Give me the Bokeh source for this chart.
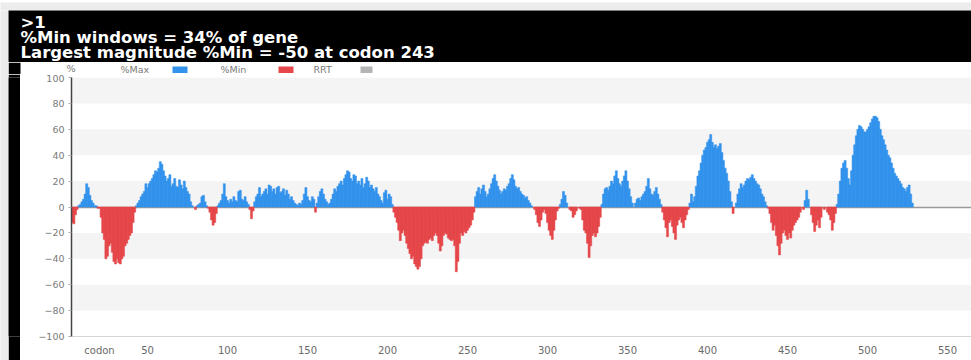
import numpy as np
from bokeh.plotting import figure
from bokeh.layouts import column, row
from bokeh.models import Range1d, FixedTicker, ColumnDataSource
from bokeh.core.properties import value
from bokeh.embed import file_html
from bokeh.resources import INLINE

# %MinMax profile of sequence ">1": one value per codon window,
# positive values are %Max windows, negative values are %Min windows.
sequence_name = ">1"
first_codon = 3
minmax_pct = [
    -12, -13, -6, -2, 1, 2, 4, 6, 10, 18,          # 3-12
    15, 9, 5, 3, 1, 1, -1, -1, -8, -20,            # 13-22
    -25, -40, -38, -30, -28, -35, -42, -44, -40, -43,
    -44, -40, -38, -30, -28, -25, -22, -20, -12, -4,
    1, 3, 5, 8, 10, 12, 18, 15, 18, 20,            # 43-52
    22, 25, 28, 27, 30, 35, 33, 28, 24, 20,
    22, 25, 16, 18, 22, 16, 15, 21, 17, 14,
    20, 15, 12, 10, 4, 1, 0, -2, 1, 2,             # 73-82
    3, 8, 9, 4, 1, -1, -4, -10, -14, -12,
    -5, 1, 3, 5, 10, 18, 8, 5, 3, 6,
    4, 8, 5, 4, 12, 13, 6, 5, 8, 4,                # 103-112
    2, -2, -9, -3, 4, 8, 10, 15, 8, 10,
    12, 14, 10, 17, 16, 12, 14, 10, 15, 16,
    11, 12, 14, 9, 13, 10, 6, 8, 5, 3,             # 133-142
    2, 1, 3, 2, 5, 10, 15, 8, 5, 4,
    8, 6, -4, 3, 8, 12, 14, 10, 6, 4,
    2, 3, 6, 10, 14, 12, 16, 18, 20, 17,           # 163-172
    22, 25, 28, 27, 22, 20, 25, 24, 18, 20,
    17, 22, 15, 18, 23, 20, 15, 17, 14, 12,
    15, 10, 8, 5, 3, 11, 13, 6, 10, 8,             # 193-202
    2, -4, -8, -12, -18, -26, -20, -18, -22, -28,
    -32, -36, -40, -38, -44, -46, -48, -46, -40, -30,
    -28, -27, -28, -25, -24, -26, -22, -20, -22, -28,   # 223-232
    -34, -30, -22, -20, -21, -24, -25, -26, -25, -30,
    -50, -42, -28, -20, -22, -19, -20, -18, -16, -14,
    -10, -4, 8, 12, 15, 10, 14, 17, 12, 8,         # 253-262
    10, 14, 18, 22, 25, 20, 16, 13, 10, 12,
    14, 13, 16, 18, 22, 25, 21, 16, 14, 15,
    12, 10, 9, 7, 8, 5, 3, 1, 0, -2,               # 283-292
    -6, -12, -15, -10, -4, -2, -5, -12, -18, -22,
    -25, -18, -10, -3, -1, 2, 6, 12, 9, 3,
    0, -2, -3, -8, -6, -3, 0, -1, -2, -10,         # 313-322
    -18, -20, -28, -39, -30, -22, -20, -23, -20, -15,
    -8, 2, 10, 14, 15, 13, 16, 20, 18, 24,
    28, 22, 18, 16, 20, 24, 28, 20, 14, 8,         # 343-352
    3, 0, 3, 6, 7, 5, 8, 10, 12, 16,
    22, 14, 10, 9, 12, 15, 10, 6, 2, -4,
    -10, -16, -23, -12, -10, -15, -20, -25, -14, -10,   # 373-382
    -8, -12, -16, -10, -6, -2, 3, 10, 4, 8,
    16, 24, 28, 34, 40, 44, 46, 50, 52, 56,
    50, 46, 48, 45, 47, 49, 42, 36, 30, 26,        # 403-412
    20, 12, 4, -5, 0, 3, 10, 14, 18, 15,
    17, 20, 22, 21, 23, 25, 22, 20, 18, 17,
    14, 10, 8, 4, 1, -1, -5, -12, -18, -14,        # 433-442
    -22, -30, -37, -28, -20, -18, -22, -25, -20, -24,
    -18, -14, -12, -10, -8, -4, 0, -2, 5, 13,
    6, 0, -6, -12, -19, -14, -10, -16, -8, 0,      # 463-472
    -2, 0, -4, -6, -10, -18, -12, -5, 2, 10,
    20, 30, 34, 36, 30, 22, 17, 28, 40, 48,
    55, 60, 63, 62, 60, 58, 58, 60, 62, 65,        # 493-502
    68, 70, 70, 69, 66, 60, 55, 52, 48, 44,
    40, 38, 34, 30, 26, 24, 22, 20, 18, 15,
    14, 12, 15, 17, 10, 3,                         # 523-528
]

x_tick_values = [20, 50, 100, 150, 200, 250, 300, 350, 400, 450, 500, 550]
x_tick_labels = ["codon", "50", "100", "150", "200", "250", "300", "350",
                 "400", "450", "500", "550"]
y_tick_values = [-100, -80, -60, -40, -20, 0, 20, 40, 60, 80, 100]
legend_names = ["%Max", "%Min", "RRT"]

MAX_COLOR = "#3393ec"
MIN_COLOR = "#e5474a"
RRT_COLOR = "#b5b5b5"
MARGIN_COLOR = "#ececec"
FONT = "DejaVu Sans"

codons = np.arange(first_codon, first_codon + len(minmax_pct))
vals = np.array(minmax_pct, dtype=float)

min_share = 100.0 * np.count_nonzero(vals < 0) / len(vals)
i_min = int(np.argmin(vals))
header_lines = [
    sequence_name,
    f"%Min windows = {min_share:.0f}% of gene",
    f"Largest magnitude %Min = {vals[i_min]:.0f} at codon {codons[i_min]}",
]


def panel(w, h, color):
    return figure(width=w, height=h, output_backend="svg", toolbar_location=None,
                  min_border=0, x_axis_type=None, y_axis_type=None,
                  x_range=Range1d(0, 1), y_range=Range1d(0, 1),
                  background_fill_color=color, border_fill_color=color,
                  outline_line_color=None)


def strip(w, h, color):
    # a blank canvas measured in pixels, top-down
    return figure(width=w, height=h, output_backend="svg", toolbar_location=None,
                  min_border=0, x_axis_type=None, y_axis_type=None,
                  x_range=Range1d(0, w), y_range=Range1d(h, 0),
                  background_fill_color=color, border_fill_color=color,
                  outline_line_color=None)


# --- black header with the summary text ---
header = strip(963, 52, "black")
header.text(x=[12, 12, 12], y=[12, 27, 41.5], text=header_lines,
            text_color="white", text_font=value(FONT), text_font_style="bold",
            text_font_size="16.5px", text_baseline="middle", text_align="left")

# --- legend row: label text followed by a colour swatch ---
legend = strip(963, 12, "white")
legend.quad(left=[0], right=[12], top=[0], bottom=[12], fill_color="black",
            line_color=None)
legend.text(x=[67], y=[6], text=["%"], text_align="right", text_baseline="middle",
            text_font=value(FONT), text_font_size="9.5px", text_color="#7a7a7a")
legend.text(x=[112, 212, 305], y=[7, 7, 7], text=legend_names, text_align="left",
            text_baseline="middle", text_font=value(FONT), text_font_size="9.5px",
            text_color="#7a7a7a")
legend.quad(left=[164, 270, 352], right=[179, 285, 364], top=[4, 4, 4],
            bottom=[10.5, 10.5, 10.5], fill_color=[MAX_COLOR, MIN_COLOR, RRT_COLOR],
            line_color=None)

# --- %MinMax bar chart ---
p = figure(width=951, height=286, output_backend="svg", toolbar_location=None,
           x_range=Range1d(2.5, 565), y_range=Range1d(-100, 100),
           min_border_left=51, min_border_right=0, min_border_top=3,
           min_border_bottom=24, outline_line_color=None,
           background_fill_color="white", border_fill_color="white")

p.hspan(y=[0], line_color="#9a9a9a", line_width=1.5)

pos = vals > 0
neg = vals < 0
src_max = ColumnDataSource(dict(codon=codons[pos], pct=vals[pos]))
src_min = ColumnDataSource(dict(codon=codons[neg], pct=vals[neg]))
p.vbar(x="codon", top="pct", bottom=0, width=1.3, source=src_max,
       fill_color=MAX_COLOR, line_color=MAX_COLOR, line_width=0.5)
p.vbar(x="codon", top="pct", bottom=0, width=1.3, source=src_min,
       fill_color=MIN_COLOR, line_color=MIN_COLOR, line_width=0.5)

# axes
p.xaxis.ticker = FixedTicker(ticks=x_tick_values)
p.xaxis.major_label_overrides = dict(zip(x_tick_values, x_tick_labels))
p.xaxis.axis_line_color = "#d6d6d6"
p.xaxis.major_tick_in = 0
p.xaxis.major_tick_out = 0
p.xaxis.minor_tick_line_color = None
p.xaxis.major_label_standoff = 8
p.xaxis.major_label_text_font = FONT
p.xaxis.major_label_text_font_size = "10px"
p.xaxis.major_label_text_color = "#6a6a6a"

p.yaxis.ticker = FixedTicker(ticks=y_tick_values)
p.yaxis.axis_line_color = "#444444"
p.yaxis.axis_line_width = 1.5
p.yaxis.major_tick_in = 0
p.yaxis.major_tick_out = 3
p.yaxis.major_tick_line_color = "#aaaaaa"
p.yaxis.minor_tick_line_color = None
p.yaxis.major_label_standoff = 4
p.yaxis.major_label_text_font = FONT
p.yaxis.major_label_text_font_size = "9.5px"
p.yaxis.major_label_text_color = "#7a7a7a"
p.yaxis.major_label_overrides = {t: str(t).replace("-", "\u2212") for t in y_tick_values}

p.xgrid.visible = False
p.ygrid.ticker = FixedTicker(ticks=y_tick_values)
p.ygrid.grid_line_color = None
p.ygrid.band_fill_color = "#f4f4f4"
p.ygrid.band_fill_alpha = 1.0

layout = column(
    panel(971, 10, MARGIN_COLOR),
    row(
        panel(8, 350, MARGIN_COLOR),
        column(header, legend, row(panel(12, 286, "black"), p)),
    ),
)

open("out.html", "w").write(file_html(layout, INLINE))
